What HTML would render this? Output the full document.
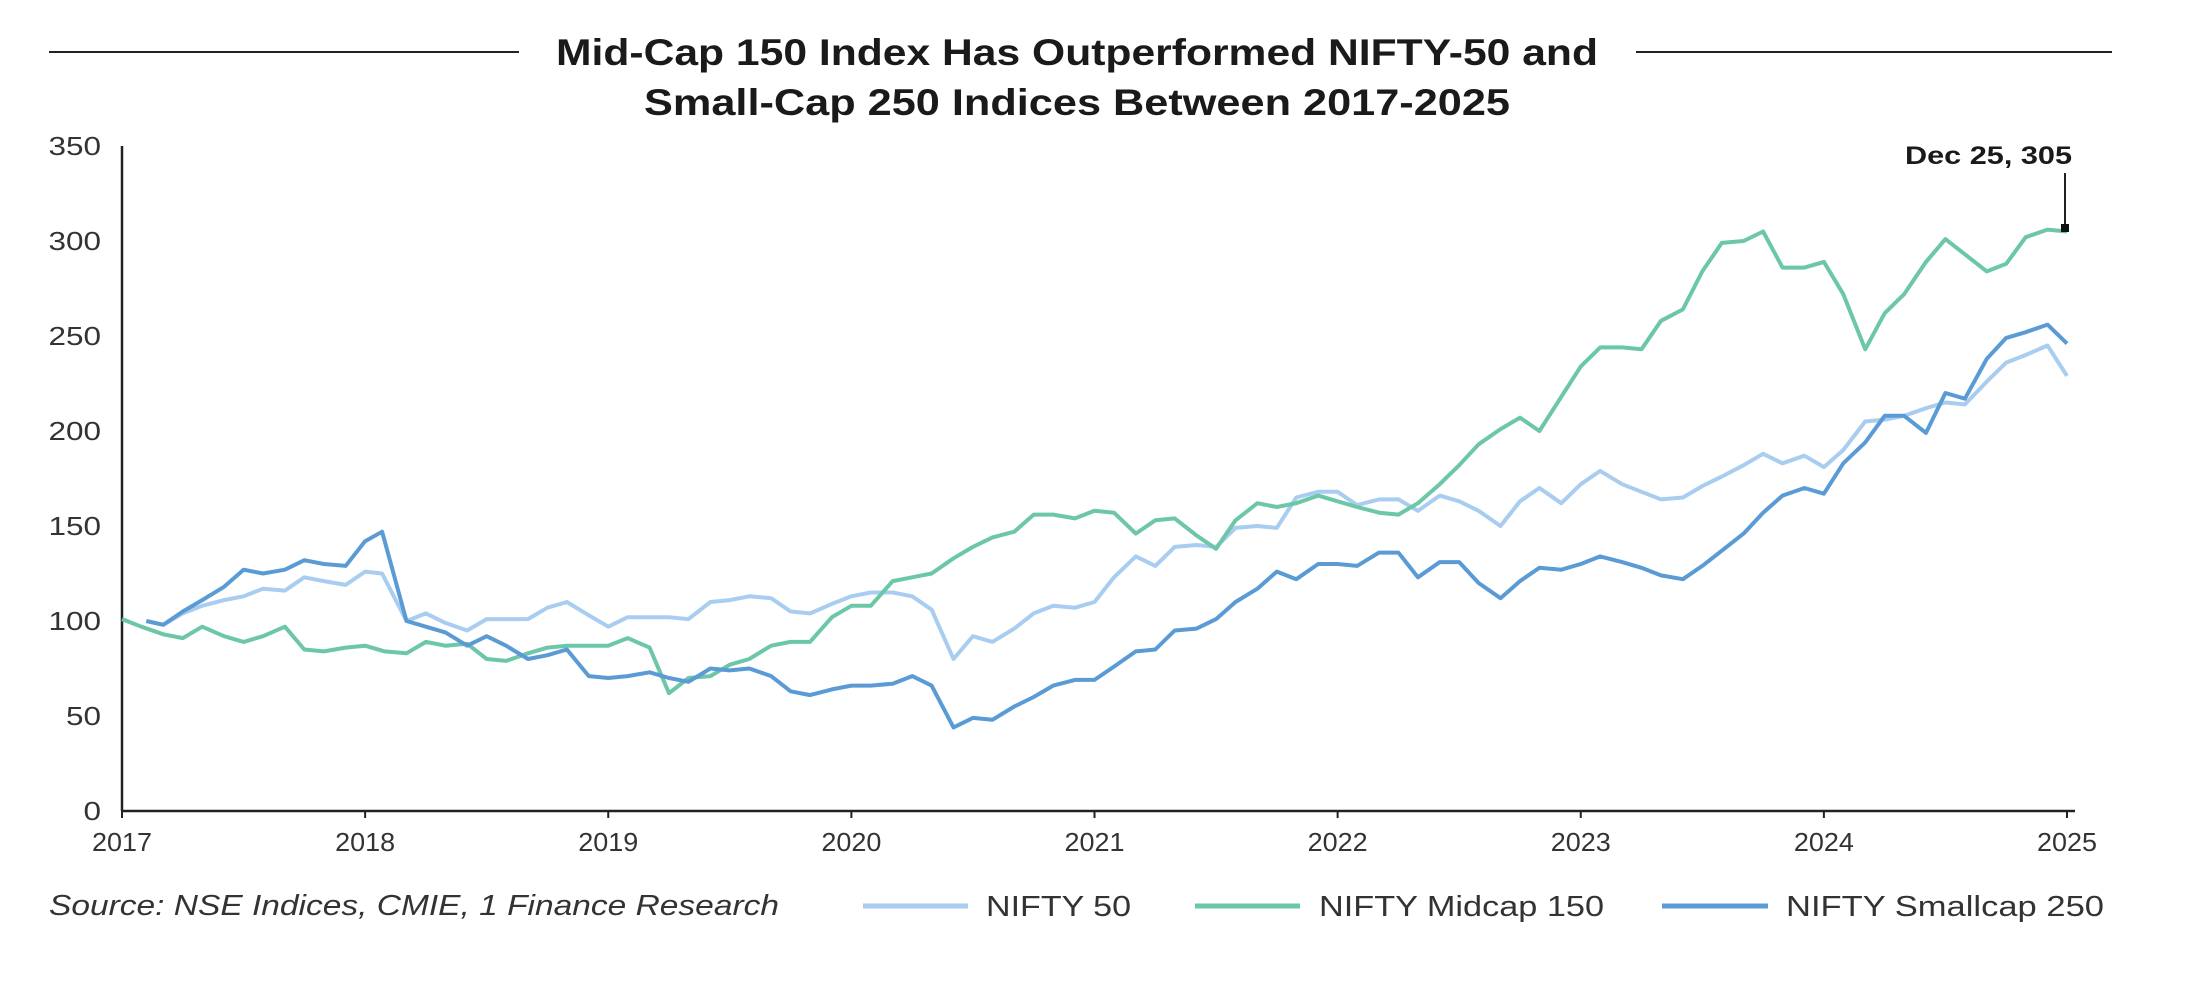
<!DOCTYPE html>
<html><head><meta charset="utf-8"><style>
html,body{margin:0;padding:0;background:#fff;}
svg{display:block;font-family:"Liberation Sans",sans-serif;}
</style></head><body>
<svg id="s" width="2193" height="990" viewBox="0 0 2193 990" xmlns="http://www.w3.org/2000/svg">
<rect width="2193" height="990" fill="#fff"/>
<line x1="49" y1="52" x2="519" y2="52" stroke="#222" stroke-width="2"/>
<line x1="1636" y1="52" x2="2112" y2="52" stroke="#222" stroke-width="2"/>
<text x="1077" y="65" text-anchor="middle" font-size="37" font-weight="bold" fill="#1a1a1a" textLength="1042" lengthAdjust="spacingAndGlyphs">Mid-Cap 150 Index Has Outperformed NIFTY-50 and</text>
<text x="1077" y="115" text-anchor="middle" font-size="37" font-weight="bold" fill="#1a1a1a" textLength="866" lengthAdjust="spacingAndGlyphs">Small-Cap 250 Indices Between 2017-2025</text>
<g id="ax"></g>
<g id="lines" fill="none" stroke-width="4" stroke-linejoin="round"></g>
<line x1="2065" y1="173" x2="2065" y2="226" stroke="#222" stroke-width="2"/>
<rect x="2061" y="224" width="8" height="8" fill="#111"/>
<text x="1905" y="164" font-size="25" font-weight="bold" fill="#1a1a1a" textLength="167" lengthAdjust="spacingAndGlyphs">Dec 25, 305</text>
<text x="49" y="915" font-size="29" font-style="italic" fill="#333" textLength="730" lengthAdjust="spacingAndGlyphs">Source: NSE Indices, CMIE, 1 Finance Research</text>
<line x1="863" y1="906" x2="968" y2="906" stroke="#a8cdf0" stroke-width="5"/>
<text x="986" y="916" font-size="29" fill="#333" textLength="145" lengthAdjust="spacingAndGlyphs">NIFTY 50</text>
<line x1="1195" y1="906" x2="1300" y2="906" stroke="#6cc6a8" stroke-width="5"/>
<text x="1319" y="916" font-size="29" fill="#333" textLength="285" lengthAdjust="spacingAndGlyphs">NIFTY Midcap 150</text>
<line x1="1662" y1="906" x2="1768" y2="906" stroke="#5b9bd5" stroke-width="5"/>
<text x="1786" y="916" font-size="29" fill="#333" textLength="318" lengthAdjust="spacingAndGlyphs">NIFTY Smallcap 250</text>
</svg>
<script>
var X0=122,X1=2067,Y0=811,Y350=146;
function px(t){return X0+(X1-X0)*t/8;}
function py(v){return Y0-(Y0-Y350)*v/350;}
var ns="http://www.w3.org/2000/svg",ax=document.getElementById('ax');
function el(n,a,t){var e=document.createElementNS(ns,n);for(var k in a)e.setAttribute(k,a[k]);if(t!==undefined)e.textContent=t;return e;}
ax.appendChild(el('line',{x1:X0,y1:Y350,x2:X0,y2:Y0,stroke:'#222','stroke-width':2.5}));
ax.appendChild(el('line',{x1:X0,y1:Y0,x2:X1+8,y2:Y0,stroke:'#222','stroke-width':2.5}));
for(var v=0;v<=350;v+=50){var w=(''+v).length*17.5;ax.appendChild(el('text',{x:101-w,y:py(v)+9,'font-size':26,fill:'#333',textLength:w,lengthAdjust:'spacingAndGlyphs'},v));}
for(var y=0;y<=8;y++){var x=px(y);ax.appendChild(el('line',{x1:x,y1:Y0,x2:x,y2:Y0+7,stroke:'#222','stroke-width':2}));
ax.appendChild(el('text',{x:x-30,y:Y0+40,'font-size':26,fill:'#333',textLength:60,lengthAdjust:'spacingAndGlyphs'},2017+y));}
var N=[[.1,100],[.17,98],[.25,104],[.33,108],[.42,111],[.5,113],[.58,117],[.67,116],[.75,123],[.83,121],[.92,119],[1,126],[1.07,125],[1.17,100],[1.25,104],[1.33,99],[1.42,95],[1.5,101],[1.58,101],[1.67,101],[1.75,107],[1.83,110],[1.92,103],[2,97],[2.08,102],[2.17,102],[2.25,102],[2.33,101],[2.42,110],[2.5,111],[2.58,113],[2.67,112],[2.75,105],[2.83,104],[2.92,109],[3,113],[3.08,115],[3.17,115],[3.25,113],[3.33,106],[3.42,80],[3.5,92],[3.58,89],[3.67,96],[3.75,104],[3.83,108],[3.92,107],[4,110],[4.08,123],[4.17,134],[4.25,129],[4.33,139],[4.42,140],[4.5,139],[4.58,149],[4.67,150],[4.75,149],[4.83,165],[4.92,168],[5,168],[5.08,161],[5.17,164],[5.25,164],[5.33,158],[5.42,166],[5.5,163],[5.58,158],[5.67,150],[5.75,163],[5.83,170],[5.92,162],[6,172],[6.08,179],[6.17,172],[6.25,168],[6.33,164],[6.42,165],[6.5,171],[6.58,176],[6.67,182],[6.75,188],[6.83,183],[6.92,187],[7,181],[7.08,190],[7.17,205],[7.25,206],[7.33,208],[7.42,212],[7.5,215],[7.58,214],[7.67,226],[7.75,236],[7.83,240],[7.92,245],[8,229]];
var M=[[0,101],[.08,97],[.17,93],[.25,91],[.33,97],[.42,92],[.5,89],[.58,92],[.67,97],[.75,85],[.83,84],[.92,86],[1,87],[1.08,84],[1.17,83],[1.25,89],[1.33,87],[1.42,88],[1.5,80],[1.58,79],[1.67,83],[1.75,86],[1.83,87],[1.92,87],[2,87],[2.08,91],[2.17,86],[2.25,62],[2.33,70],[2.42,71],[2.5,77],[2.58,80],[2.67,87],[2.75,89],[2.83,89],[2.92,102],[3,108],[3.08,108],[3.17,121],[3.25,123],[3.33,125],[3.42,133],[3.5,139],[3.58,144],[3.67,147],[3.75,156],[3.83,156],[3.92,154],[4,158],[4.08,157],[4.17,146],[4.25,153],[4.33,154],[4.42,145],[4.5,138],[4.58,153],[4.67,162],[4.75,160],[4.83,162],[4.92,166],[5,163],[5.08,160],[5.17,157],[5.25,156],[5.33,162],[5.42,172],[5.5,182],[5.58,193],[5.67,201],[5.75,207],[5.83,200],[5.92,218],[6,234],[6.08,244],[6.17,244],[6.25,243],[6.33,258],[6.42,264],[6.5,284],[6.58,299],[6.67,300],[6.75,305],[6.83,286],[6.92,286],[7,289],[7.08,272],[7.17,243],[7.25,262],[7.33,272],[7.42,289],[7.5,301],[7.58,293],[7.67,284],[7.75,288],[7.83,302],[7.92,306],[8,305]];
var S=[[.1,100],[.17,98],[.25,105],[.33,111],[.42,118],[.5,127],[.58,125],[.67,127],[.75,132],[.83,130],[.92,129],[1,142],[1.07,147],[1.17,100],[1.25,97],[1.33,94],[1.42,87],[1.5,92],[1.58,87],[1.67,80],[1.75,82],[1.83,85],[1.92,71],[2,70],[2.08,71],[2.17,73],[2.25,70],[2.33,68],[2.42,75],[2.5,74],[2.58,75],[2.67,71],[2.75,63],[2.83,61],[2.92,64],[3,66],[3.08,66],[3.17,67],[3.25,71],[3.33,66],[3.42,44],[3.5,49],[3.58,48],[3.67,55],[3.75,60],[3.83,66],[3.92,69],[4,69],[4.08,76],[4.17,84],[4.25,85],[4.33,95],[4.42,96],[4.5,101],[4.58,110],[4.67,117],[4.75,126],[4.83,122],[4.92,130],[5,130],[5.08,129],[5.17,136],[5.25,136],[5.33,123],[5.42,131],[5.5,131],[5.58,120],[5.67,112],[5.75,121],[5.83,128],[5.92,127],[6,130],[6.08,134],[6.17,131],[6.25,128],[6.33,124],[6.42,122],[6.5,129],[6.58,137],[6.67,146],[6.75,157],[6.83,166],[6.92,170],[7,167],[7.08,183],[7.17,194],[7.25,208],[7.33,208],[7.42,199],[7.5,220],[7.58,217],[7.67,238],[7.75,249],[7.83,252],[7.92,256],[8,246]];
var g=document.getElementById('lines');
[[N,'#a8cdf0'],[M,'#6cc6a8'],[S,'#5b9bd5']].forEach(function(d){
 g.appendChild(el('polyline',{points:d[0].map(function(p){return px(p[0]).toFixed(1)+','+py(p[1]).toFixed(1);}).join(' '),stroke:d[1]}));
});
</script>
</body></html>
